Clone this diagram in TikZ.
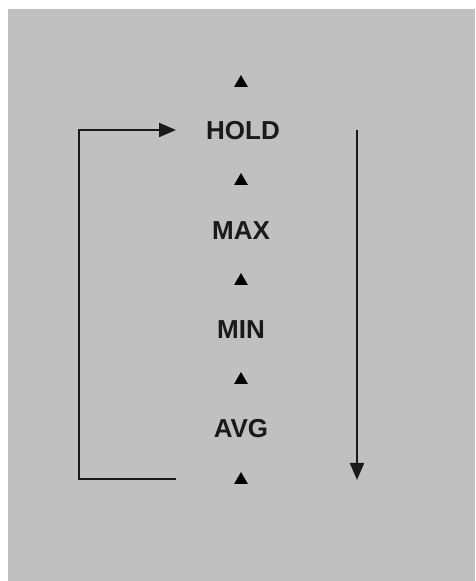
\documentclass[tikz,border=0pt]{standalone}
\usepackage{fontspec}
\setmainfont{Liberation Sans}
\usepackage{tikz}
\usetikzlibrary{arrows.meta,shapes.geometric}
\definecolor{panel}{HTML}{C0C0C0}
\definecolor{ink}{HTML}{1A1A1A}

\begin{document}
\begin{tikzpicture}[x=1pt,y=1pt]
                      \tikzstyle{mode}=[inner sep=0pt,text=ink,font=\fontsize{26}{29}\selectfont\bfseries]
                      \tikzstyle{marker}=[regular polygon,regular polygon sides=3,fill=black,inner sep=0pt,minimum size=16pt]
                      \tikzstyle{flow}=[line width=2.2pt,draw=ink,-{Triangle[length=17pt,width=14pt]}]
                      \useasboundingbox (0,0) rectangle (475,581);
                      \fill[panel] (8,0) rectangle (475,572);
                      % markers and modes
                      \node[marker] (m1) at (241,498) {};
                      \node[mode] (hold) at (243,450) {HOLD};
                      \node[marker] (m2) at (241,400) {};
                      \node[mode] (max) at (241,350) {MAX};
                      \node[marker] (m3) at (241,300) {};
                      \node[mode] (min) at (241,251) {MIN};
                      \node[marker] (m4) at (241,201) {};
                      \node[mode] (avg) at (241,152) {AVG};
                      \node[marker] (m5) at (241,101) {};
                      % loop back to the top
                      \coordinate (loopout) at (176,102);
                      \coordinate (loopin) at (176,451);
                      \draw[flow] (loopout) -- (79,102) -- (79,451) -- (loopin);
                      % scroll direction
                      \coordinate (scrolltop) at (357,451);
                      \coordinate (scrollend) at (357,101);
                      \draw[flow] (scrolltop) -- (scrollend);
                  \end{tikzpicture}
\end{document}
